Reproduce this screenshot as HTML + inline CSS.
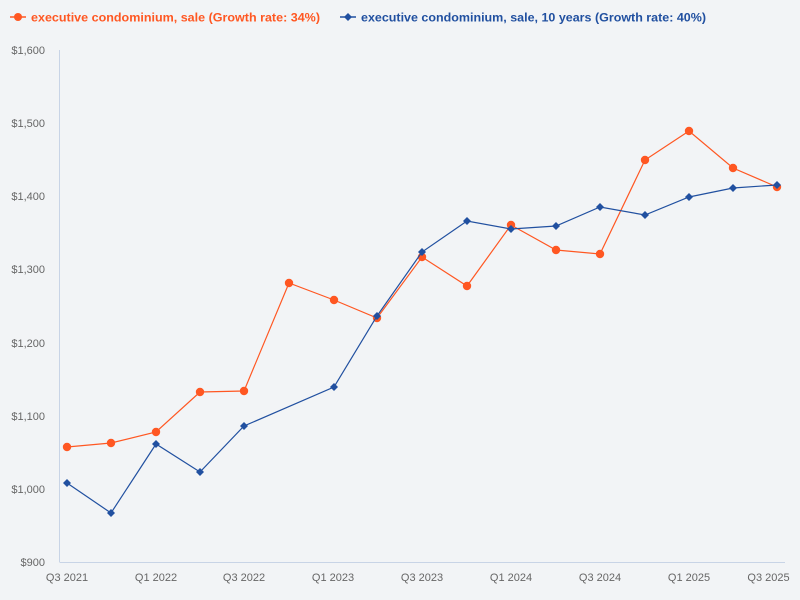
<!DOCTYPE html>
<html>
<head>
<meta charset="utf-8">
<style>
  html, body { margin: 0; padding: 0; background: #f2f4f6; }
  svg { display: block; font-family: "Liberation Sans", "DejaVu Sans", sans-serif; }
</style>
</head>
<body>
<svg width="800" height="600" viewBox="0 0 800 600" xmlns="http://www.w3.org/2000/svg">
  <rect x="0" y="0" width="800" height="600" fill="#f2f4f6"/>

  <!-- Legend -->
  <line x1="10" y1="17" x2="26" y2="17" stroke="#ff5722" stroke-width="1.5"/>
  <circle cx="18" cy="17" r="4" fill="#ff5722"/>
  <text x="31" y="21.5" font-size="12" font-weight="bold" fill="#ff5722" textLength="289" lengthAdjust="spacingAndGlyphs">executive condominium, sale (Growth rate: 34%)</text>

  <line x1="340" y1="17" x2="356" y2="17" stroke="#2150a0" stroke-width="1.5"/>
  <polygon points="348,13 352,17 348,21 344,17" fill="#2150a0"/>
  <text x="361" y="21.5" font-size="12" font-weight="bold" fill="#2150a0" textLength="345" lengthAdjust="spacingAndGlyphs">executive condominium, sale, 10 years (Growth rate: 40%)</text>

  <!-- Axes -->
  <line x1="59.5" y1="50" x2="59.5" y2="562" stroke="#c8d4e6" stroke-width="1"/>
  <line x1="59.5" y1="562.5" x2="785" y2="562.5" stroke="#c8d4e6" stroke-width="1"/>

  <!-- Y labels -->
  <g font-size="11" fill="#666" text-anchor="end">
    <text x="45" y="54">$1,600</text>
    <text x="45" y="127">$1,500</text>
    <text x="45" y="200">$1,400</text>
    <text x="45" y="273">$1,300</text>
    <text x="45" y="347">$1,200</text>
    <text x="45" y="420">$1,100</text>
    <text x="45" y="493">$1,000</text>
    <text x="45" y="566">$900</text>
  </g>

  <!-- X labels -->
  <g font-size="11" fill="#666" text-anchor="middle">
    <text x="67" y="581">Q3 2021</text>
    <text x="156" y="581">Q1 2022</text>
    <text x="244" y="581">Q3 2022</text>
    <text x="333" y="581">Q1 2023</text>
    <text x="422" y="581">Q3 2023</text>
    <text x="511" y="581">Q1 2024</text>
    <text x="600" y="581">Q3 2024</text>
    <text x="689" y="581">Q1 2025</text>
    <text x="768.5" y="581">Q3 2025</text>
  </g>

  <!-- Orange series -->
  <polyline fill="none" stroke="#ff5722" stroke-width="1.2" points="67,447 111,443 156,432 200,392 244,391 289,283 334,300 377,318 422,257 467,286 511,225 556,250 600,254 645,160 689,131 733,168 777,187"/>
  <g fill="#ff5722">
    <circle cx="67" cy="447" r="4.2"/>
    <circle cx="111" cy="443" r="4.2"/>
    <circle cx="156" cy="432" r="4.2"/>
    <circle cx="200" cy="392" r="4.2"/>
    <circle cx="244" cy="391" r="4.2"/>
    <circle cx="289" cy="283" r="4.2"/>
    <circle cx="334" cy="300" r="4.2"/>
    <circle cx="377" cy="318" r="4.2"/>
    <circle cx="422" cy="257" r="4.2"/>
    <circle cx="467" cy="286" r="4.2"/>
    <circle cx="511" cy="225" r="4.2"/>
    <circle cx="556" cy="250" r="4.2"/>
    <circle cx="600" cy="254" r="4.2"/>
    <circle cx="645" cy="160" r="4.2"/>
    <circle cx="689" cy="131" r="4.2"/>
    <circle cx="733" cy="168" r="4.2"/>
    <circle cx="777" cy="187" r="4.2"/>
  </g>

  <!-- Blue series -->
  <polyline fill="none" stroke="#2150a0" stroke-width="1.2" points="67,483 111,513 156,444 200,472 244,426 334,387 377,316 422,252 467,221 511,229 556,226 600,207 645,215 689,197 733,188 777,185"/>
  <g fill="#2150a0">
    <polygon points="67,479 71,483 67,487 63,483"/>
    <polygon points="111,509 115,513 111,517 107,513"/>
    <polygon points="156,440 160,444 156,448 152,444"/>
    <polygon points="200,468 204,472 200,476 196,472"/>
    <polygon points="244,422 248,426 244,430 240,426"/>
    <polygon points="334,383 338,387 334,391 330,387"/>
    <polygon points="377,312 381,316 377,320 373,316"/>
    <polygon points="422,248 426,252 422,256 418,252"/>
    <polygon points="467,217 471,221 467,225 463,221"/>
    <polygon points="511,225 515,229 511,233 507,229"/>
    <polygon points="556,222 560,226 556,230 552,226"/>
    <polygon points="600,203 604,207 600,211 596,207"/>
    <polygon points="645,211 649,215 645,219 641,215"/>
    <polygon points="689,193 693,197 689,201 685,197"/>
    <polygon points="733,184 737,188 733,192 729,188"/>
    <polygon points="777,181 781,185 777,189 773,185"/>
  </g>
</svg>
</body>
</html>
